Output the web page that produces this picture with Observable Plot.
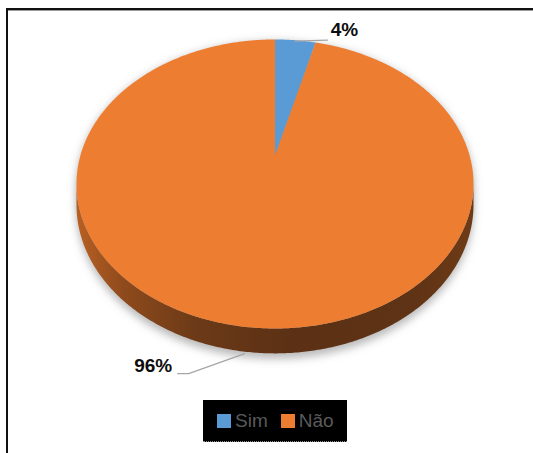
<!DOCTYPE html>
<html>
<head>
<meta charset="utf-8">
<script src="https://cdn.jsdelivr.net/npm/d3@7"></script>
<script src="https://cdn.jsdelivr.net/npm/@observablehq/plot@0.6"></script>
<style>
html, body { margin: 0; padding: 0; background: #fff; }
#wrap { position: relative; width: 533px; height: 453px; overflow: hidden; font-family: "Liberation Sans", Arial, sans-serif; }
#frame { position: absolute; left: 6px; top: 8px; width: 700px; height: 600px; border-left: 2px solid #111; border-top: 2px solid #111; box-shadow: inset 0 1px 0 #9a9a9a; }
#chart { position: absolute; left: 0; top: 0; }
#legend { position: absolute; left: 203px; top: 400px; width: 144px; height: 42px; background: #000; border-bottom: 1px dotted #8a8a8a; display: flex; align-items: center; padding-left: 14px; box-sizing: border-box; }
.item { display: flex; align-items: center; margin-right: 13px; }
.sw { width: 14px; height: 14px; margin-right: 4px; }
.lab { color: #5a5a5a; font-size: 19px; line-height: 19px; }
</style>
</head>
<body>
<div id="wrap">
  <div id="frame"></div>
  <div id="chart"></div>
  <div id="legend"></div>
</div>
<script>
// ---- data ----
const categories = ["Sim", "Não"];
const values = [4, 96];
const colors = ["#5B9BD5", "#ED7D31"];
const labels = ["4%", "96%"];

// ---- layout (perspective pie) ----
const cx = 274.5, cy = 155, A = 194.6, B = 138.9, k = 0.197, T = 20;
const rad = d => d * Math.PI / 180;
function proj(deg, drop = 0) {
  const Z = Math.cos(rad(deg)), X = Math.sin(rad(deg));
  const den = 1 + k * Z;
  return [cx + A * X / den, cy - B * Z / den + T * drop / den];
}

const total = d3.sum(values);
let acc = 0;
const slices = categories.map((c, i) => {
  const a0 = acc / total * 360;
  acc += values[i];
  const a1 = acc / total * 360;
  return { cat: c, a0, a1, mid: (a0 + a1) / 2, label: labels[i] };
});

// slice polygons (top face)
const sliceRows = [];
for (const s of slices) {
  sliceRows.push({ cat: s.cat, x: cx, y: cy });
  for (let a = s.a0; a <= s.a1 + 1e-9; a += 0.5) {
    const [x, y] = proj(a);
    sliceRows.push({ cat: s.cat, x, y });
  }
  const [xe, ye] = proj(s.a1);
  sliceRows.push({ cat: s.cat, x: xe, y: ye });
}

// side band (front arc between the extreme points)
const aRight = 90 + Math.asin(k) * 180 / Math.PI;
const aLeft = 360 - aRight;
const sideRows = [];
for (let a = aRight; a <= aLeft + 1e-9; a += 0.5) { const [x, y] = proj(a, 0); sideRows.push({ x, y }); }
for (let a = aLeft; a >= aRight - 1e-9; a -= 0.5) { const [x, y] = proj(a, 1); sideRows.push({ x, y }); }

// shadow
const shadowRows = [];
for (let a = 0; a <= 360; a += 1) { const [x, y] = proj(a, 1.1); shadowRows.push({ part: "b", x, y: y + 3 }); }
for (let a = 0; a <= 360; a += 1) { const [x, y] = proj(a, 0); shadowRows.push({ part: "t", x, y: y + 2 }); }

// labels and leader lines
const leaderRows = [], textRows = [];
slices.forEach(s => {
  const right = Math.sin(rad(s.mid)) >= 0;
  if (right) {
    const [ax, ay] = proj(s.mid, 0);
    leaderRows.push({ cat: s.cat, x: ax, y: ay + 1 }, { cat: s.cat, x: ax + 32, y: ay });
    textRows.push({ x: ax + 49, y: ay - 10, label: s.label });
  } else {
    const [ax, ay] = proj(s.mid, 1);
    leaderRows.push({ cat: s.cat, x: ax, y: ay + 2 }, { cat: s.cat, x: ax - 56, y: ay + 22 }, { cat: s.cat, x: ax - 67, y: ay + 22 });
    textRows.push({ x: ax - 91.5, y: ay + 14, label: s.label });
  }
});

const chart = Plot.plot({
  width: 533,
  height: 453,
  margin: 0,
  x: { domain: [0, 533], range: [0, 533], axis: null },
  y: { domain: [0, 453], range: [0, 453], axis: null },
  color: { domain: categories, range: colors },
  style: { background: "transparent", overflow: "visible" },
  marks: [
    Plot.line(shadowRows, { x: "x", y: "y", z: "part", fill: "#808080", fillOpacity: 0.55, stroke: "none", className: "pie-shadow" }),
    Plot.line(sideRows, { x: "x", y: "y", fill: "url(#sideGrad)", stroke: "none" }),
    Plot.line(sliceRows, { x: "x", y: "y", z: "cat", fill: "cat", stroke: "none" }),
    Plot.line(leaderRows, { x: "x", y: "y", z: "cat", stroke: "#a6a6a6", strokeWidth: 1.3 }),
    Plot.text(textRows, { x: "x", y: "y", text: "label", fontSize: 19, fontWeight: "bold", fill: "#0d0d0d", fontFamily: "Liberation Sans, Arial, sans-serif" })
  ]
});

// gradient + blur definitions
const svg = d3.select(chart);
const defs = svg.insert("defs", ":first-child");
const g = defs.append("linearGradient").attr("id", "sideGrad").attr("x1", 0).attr("x2", 1).attr("y1", 0).attr("y2", 0);
[[0, "#b86023"], [0.12, "#8e4a1c"], [0.3, "#6c3a17"], [0.55, "#5b3014"], [0.85, "#5f3315"], [1, "#6e3b17"]]
  .forEach(([o, c]) => g.append("stop").attr("offset", o).attr("stop-color", c));
defs.append("filter").attr("id", "softBlur").attr("x", "-20%").attr("y", "-20%").attr("width", "140%").attr("height", "140%")
  .append("feGaussianBlur").attr("stdDeviation", 4);
const sh = svg.select(".pie-shadow").node() ? svg.select(".pie-shadow") : svg.select('g[aria-label="line"]');
sh.attr("filter", "url(#softBlur)");

document.getElementById("chart").appendChild(chart);

// legend
const legend = d3.select("#legend");
categories.forEach((c, i) => {
  const it = legend.append("div").attr("class", "item");
  it.append("div").attr("class", "sw").style("background", colors[i]);
  it.append("span").attr("class", "lab").text(c);
});
</script>
</body>
</html>
